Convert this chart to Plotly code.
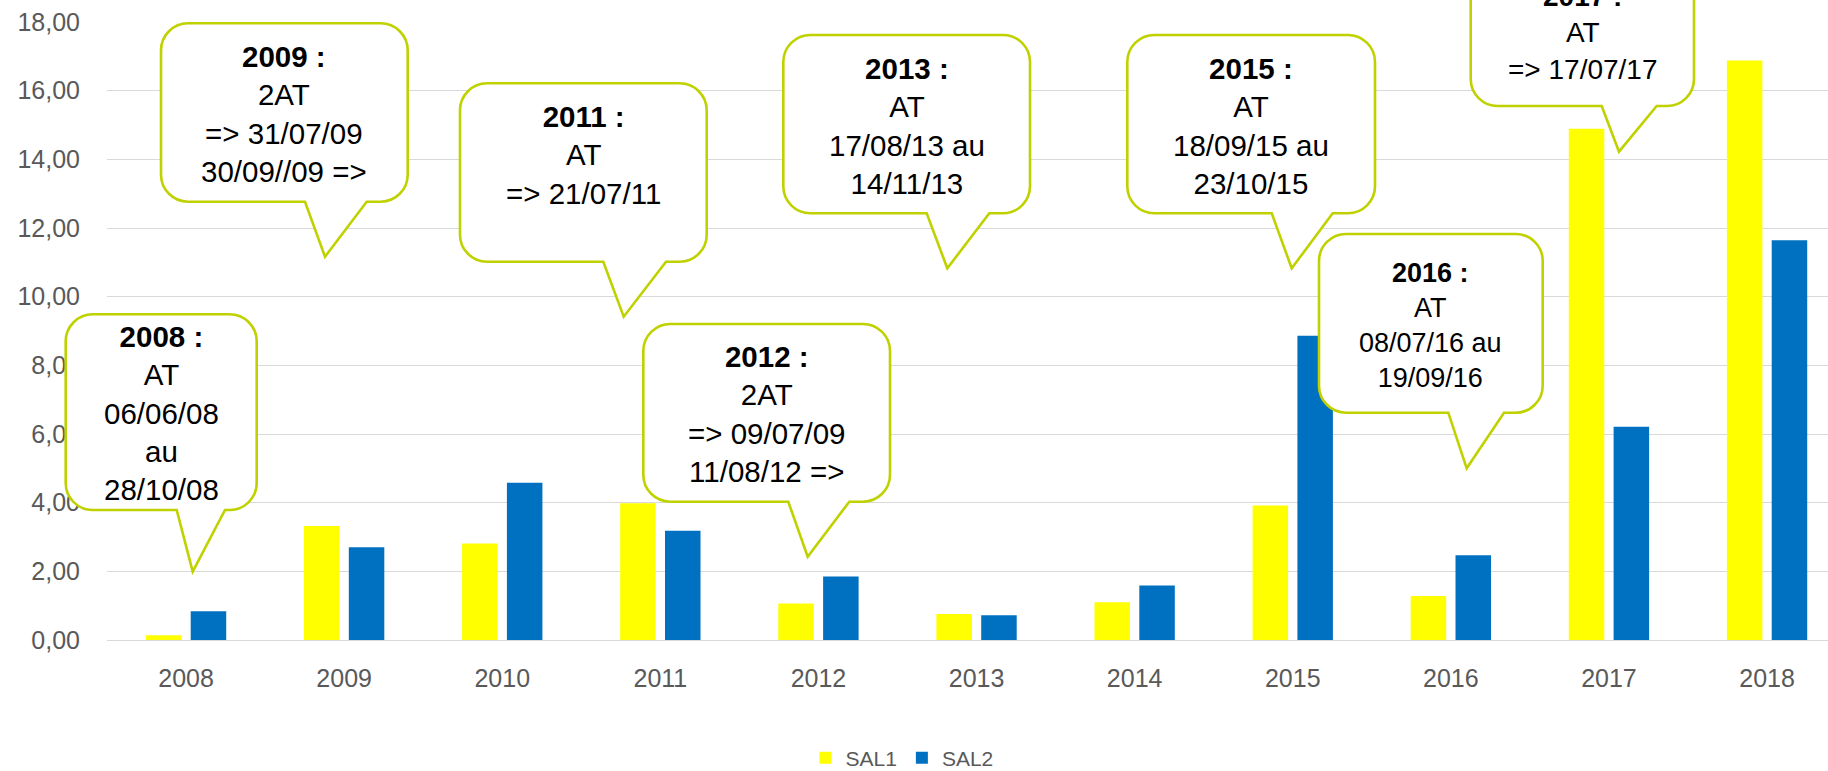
import plotly.graph_objects as go

# ---------------- data ----------------
years = ["2008", "2009", "2010", "2011", "2012", "2013", "2014", "2015", "2016", "2017", "2018"]
sal1 = [0.14, 3.32, 2.81, 3.98, 1.06, 0.76, 1.10, 3.92, 1.28, 14.89, 16.88]
sal2 = [0.84, 2.70, 4.58, 3.18, 1.85, 0.72, 1.59, 8.86, 2.47, 6.21, 11.64]
series_names = ["SAL1", "SAL2"]
y_ticks = [0, 2, 4, 6, 8, 10, 12, 14, 16, 18]

callout_titles = ["2008 :", "2009 :", "2011 :", "2012 :", "2013 :", "2015 :", "2016 :", "2017 :"]
callout_bodies = [
    ["AT", "06/06/08", "au", "28/10/08"],
    ["2AT", "=> 31/07/09", "30/09//09 =>"],
    ["AT", "=> 21/07/11"],
    ["2AT", "=> 09/07/09", "11/08/12 =>"],
    ["AT", "17/08/13 au", "14/11/13"],
    ["AT", "18/09/15 au", "23/10/15"],
    ["AT", "08/07/16 au", "19/09/16"],
    ["AT", "=> 17/07/17"],
]

# ---------------- layout geometry (pixels) ----------------
W, H = 1828, 771
L, T, B = 107, 22, 131
PW = W - L
PH = H - T - B
CAT_W = 158.1
x_max = -0.5 + PW / CAT_W

def px(x):
    return (x - L) / PW

def py(y):
    return (H - B - y) / PH

# callout geometry: left, top, right, bottom, tail_left, tail_right, tip_x, tip_y, text_cy, font size
callout_geom = [
    (65.7, 314.3, 256.7, 510.0, 176.7, 225.0, 192.7, 571.7, 413.3, 29.5),
    (161.0, 23.3, 407.7, 201.7, 305.0, 366.7, 325.0, 256.7, 114.2, 29.5),
    (460.0, 83.3, 706.7, 261.7, 603.3, 666.0, 623.7, 316.7, 155.0, 29.5),
    (643.3, 324.0, 890.0, 501.7, 788.3, 849.3, 807.7, 556.7, 414.2, 29.5),
    (783.3, 35.0, 1030.0, 213.3, 926.7, 989.3, 947.3, 268.3, 125.8, 29.5),
    (1127.3, 35.0, 1375.0, 213.3, 1271.7, 1332.7, 1291.7, 268.3, 125.8, 29.5),
    (1319.0, 234.0, 1542.7, 412.7, 1448.3, 1504.0, 1466.7, 468.3, 325.8, 27.0),
    (1470.7, -42.0, 1694.0, 106.0, 1601.7, 1656.7, 1619.0, 151.7, 33.3, 28.0),
]

BORDER = "#BFD200"
R = 27
K = 0.45

def callout_path(x0, y0, x1, y1, tl, tr, tx, ty):
    def P(x, y):
        return f"{px(x):.5f},{py(y):.5f}"
    s = f"M{P(x0 + R, y0)}"
    s += f" L{P(x1 - R, y0)}"
    s += f" C{P(x1 - R * K, y0)} {P(x1, y0 + R * K)} {P(x1, y0 + R)}"
    s += f" L{P(x1, y1 - R)}"
    s += f" C{P(x1, y1 - R * K)} {P(x1 - R * K, y1)} {P(x1 - R, y1)}"
    s += f" L{P(tr, y1)} L{P(tx, ty)} L{P(tl, y1)}"
    s += f" L{P(x0 + R, y1)}"
    s += f" C{P(x0 + R * K, y1)} {P(x0, y1 - R * K)} {P(x0, y1 - R)}"
    s += f" L{P(x0, y0 + R)}"
    s += f" C{P(x0, y0 + R * K)} {P(x0 + R * K, y0)} {P(x0 + R, y0)} Z"
    return s

fig = go.Figure()
fig.add_trace(go.Bar(x=years, y=sal1, name=series_names[0], marker=dict(color="#FFFF00", line=dict(width=0))))
fig.add_trace(go.Bar(x=years, y=sal2, name=series_names[1], marker=dict(color="#0070C0", line=dict(width=0))))

shapes = []
annotations = []
for title, body, g in zip(callout_titles, callout_bodies, callout_geom):
    x0, y0, x1, y1, tl, tr, tx, ty, cy, fs = g
    shapes.append(dict(
        type="path", xref="paper", yref="paper", layer="above",
        path=callout_path(x0, y0, x1, y1, tl, tr, tx, ty),
        fillcolor="white", line=dict(color=BORDER, width=2.6),
    ))
    text = "<b>" + title + "</b><br>" + "<br>".join(body)
    annotations.append(dict(
        xref="paper", yref="paper", x=px((x0 + x1) / 2), y=py(cy),
        xanchor="center", yanchor="middle", showarrow=False, align="center",
        text=text, font=dict(family="Liberation Sans, Arial, sans-serif", size=fs, color="black"),
    ))

fig.update_layout(
    width=W, height=H, autosize=False,
    margin=dict(l=L, r=0, t=T, b=B, pad=0, autoexpand=False),
    paper_bgcolor="white", plot_bgcolor="white",
    separators=", ",
    barmode="group", bargap=0.433, bargroupgap=0.208,
    font=dict(family="Liberation Sans, Arial, sans-serif", color="#595959"),
    shapes=shapes, annotations=annotations,
    showlegend=True,
    legend=dict(orientation="h", x=px(902), xanchor="center", y=py(758), yanchor="middle",
                font=dict(size=21, color="#595959"), traceorder="normal",
                itemwidth=30, bgcolor="rgba(0,0,0,0)"),
)
fig.update_xaxes(type="category", range=[-0.5, x_max], showgrid=False, showline=False,
                 ticks="", tickfont=dict(size=25, color="#595959"), ticklabelstandoff=21,
                 fixedrange=True, automargin=False)
fig.update_yaxes(range=[0, 18], tickvals=y_ticks, tickformat=".2f", showgrid=True,
                 gridcolor="#D9D9D9", gridwidth=1.3, zeroline=True, zerolinecolor="#D9D9D9",
                 zerolinewidth=1.3, showline=False, ticks="",
                 tickfont=dict(size=25, color="#595959"), ticklabelstandoff=26, fixedrange=True,
                 automargin=False)

fig.write_html("out.html", config={"displayModeBar": False})

# remove the browser's default page margin so the figure sits at the window's corner
with open("out.html", "r", encoding="utf-8") as f:
    html = f.read()
html = html.replace("<body>", '<body style="margin:0;padding:0;overflow:hidden">', 1)
with open("out.html", "w", encoding="utf-8") as f:
    f.write(html)
